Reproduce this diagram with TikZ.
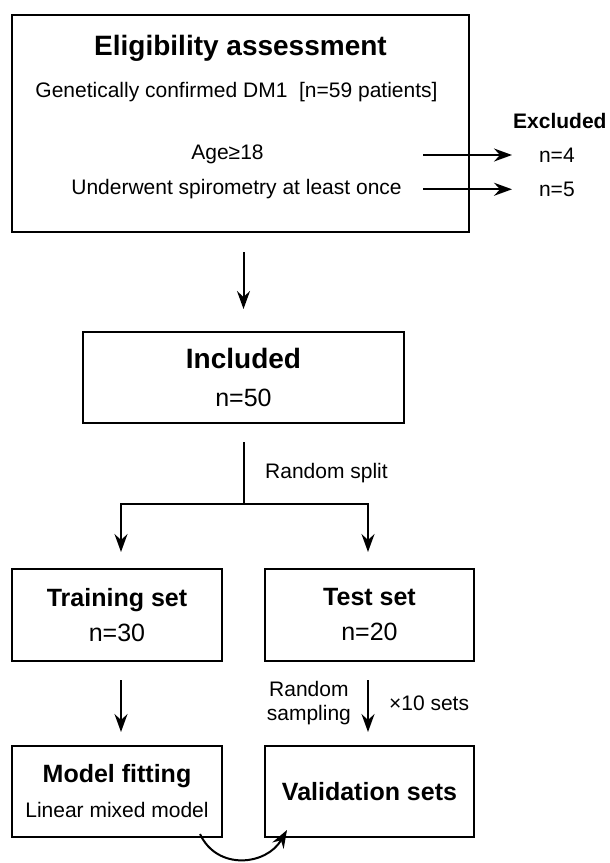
\documentclass[tikz,border=0pt]{standalone}
\usepackage{fontspec}
\setmainfont{Liberation Sans}
\usetikzlibrary{arrows.meta,positioning}
\tikzset{
  box/.style={draw=black,line width=1.3pt,minimum width=105pt,minimum height=46pt,align=center,inner sep=0pt,outer sep=0pt,font=\fontsize{12.5}{17.5}\selectfont},
  head/.style={font=\fontsize{14}{19}\selectfont\bfseries},
  note/.style={font=\fontsize{10.5}{12}\selectfont},
  notebold/.style={font=\fontsize{10.5}{12}\selectfont\bfseries},
  arr/.style={-{Stealth[length=9pt,width=6.5pt,inset=3pt]},line width=1pt},
  link/.style={line width=1pt}
}

\begin{document}
\begin{tikzpicture}[node distance=21.5pt]
  \useasboundingbox (0,0) rectangle (305pt,-431.5pt);
  % eligibility
  \node[box,minimum width=228.5pt,minimum height=108.5pt] (elig) at (120.25pt,-61.75pt) {};
  \node[head,anchor=base] (eligtitle) at ([yshift=-20pt]elig.north) {Eligibility assessment};
  \node[note,anchor=base] (dm1) at ([xshift=-2pt,yshift=-41.25pt]elig.north) {Genetically confirmed DM1\ \ [n=59 patients]};
  \node[note,anchor=base] (age) at ([xshift=-6.5pt,yshift=-72.25pt]elig.north) {Age≥18};
  \node[note,anchor=base] (spiro) at ([xshift=-2pt,yshift=-89.75pt]elig.north) {Underwent spirometry at least once};
  % excluded
  \coordinate (cut) at (211.5pt,0);
  \node[note,anchor=west] (n4) at (266pt,-77.5pt) {n=4};
  \node[note,below=2.8pt of n4] (n5) {n=5};
  \node[notebold,above=2.3pt of n4,xshift=1.5pt] (excl) {Excluded};
  \draw[arr,shorten >=10pt] (n4.west -| cut) -- (n4.west);
  \draw[arr,shorten >=10pt] (n5.west -| cut) -- (n5.west);
  % included
  \node[box,minimum width=160.5pt,minimum height=45.5pt,font=\fontsize{12.5}{19}\selectfont,below=50pt of elig,xshift=1.5pt] (incl) {{\fontsize{14}{19}\selectfont\bfseries Included}\\n=50};
  \draw[arr,shorten <=10pt,shorten >=11.5pt] (elig.south -| incl.north) -- (incl.north);
  % split
  \node[box,below=73pt of incl,xshift=-63.25pt] (train) {{\bfseries Training set}\\n=30};
  \node[box,minimum width=104.5pt,right=of train] (test) {{\bfseries Test set}\\n=20};
  \coordinate[below=40.5pt of incl.south] (split);
  \draw[link] ([yshift=-9.5pt]incl.south) -- node[note,right=7pt] {Random split} (split);
  \draw[arr,shorten >=8.5pt] (split) -| ([xshift=2pt]train.north);
  \draw[arr,shorten >=8.5pt] (split) -| ([xshift=-0.75pt]test.north);
  % bottom row
  \node[box,minimum height=45.5pt,below=42.5pt of train] (model) {{\bfseries Model fitting}\\{\fontsize{10.5}{12}\selectfont Linear mixed model}};
  \node[box,minimum width=104.5pt,minimum height=45.5pt,below=42.5pt of test] (valid) {\bfseries Validation sets};
  \draw[arr,shorten <=9.5pt,shorten >=7pt] ([xshift=2pt]train.south) -- ([xshift=2pt]model.north);
  \draw[arr,shorten <=9.5pt,shorten >=7pt] ([xshift=-0.75pt]test.south) -- node[note,align=center,left=4.7pt] {Random\\sampling} node[note,right=6.7pt] {×10 sets} ([xshift=-0.75pt]valid.north);
  \draw[arr] ([xshift=-11pt,yshift=1.5pt]model.south east) to[out=-65,in=-120,looseness=1.2] ([xshift=11pt,yshift=3.5pt]valid.south west);
\end{tikzpicture}
\end{document}
